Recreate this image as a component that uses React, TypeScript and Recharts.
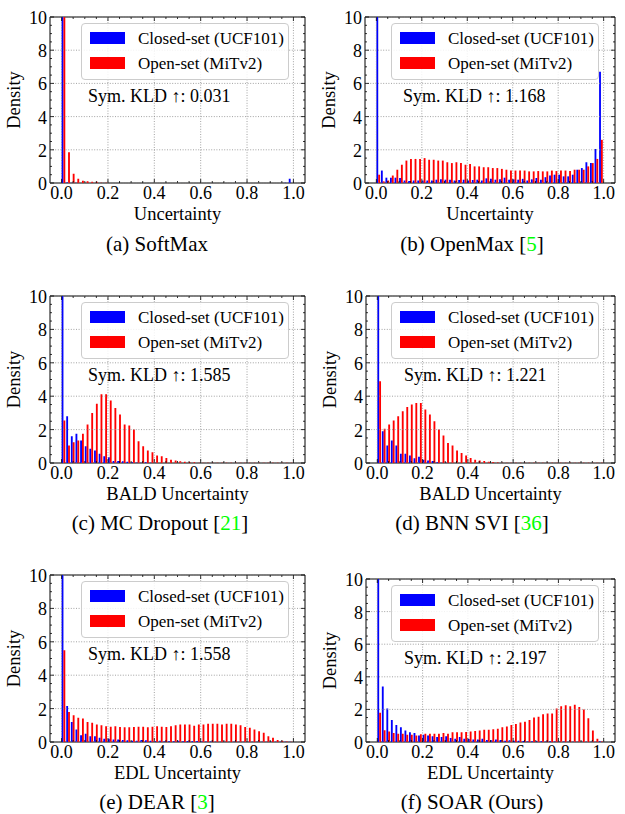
import React from 'react';
import { BarChart, Bar, XAxis, YAxis, ReferenceArea, Legend } from 'recharts';

// 50 bins of width 0.02 on [0, 1]
const BINS = Array.from({ length: 50 }, (_, i) => (i * 0.02).toFixed(2));
const CENTERS = Array.from({ length: 50 }, (_, i) => i * 0.02 + 0.01);

const X_TICKS = [0, 0.05, 0.1, 0.15, 0.2, 0.25, 0.3, 0.35, 0.4, 0.45, 0.5, 0.55, 0.6, 0.65, 0.7, 0.75, 0.8, 0.85, 0.9, 0.95, 1.0];
const Y_TICKS = [0, 0.5, 1, 1.5, 2, 2.5, 3, 3.5, 4, 4.5, 5, 5.5, 6, 6.5, 7, 7.5, 8, 8.5, 9, 9.5, 10];

const CLOSED_NAME = 'Closed-set (UCF101)';
const OPEN_NAME = 'Open-set (MiTv2)';

// (a) SoftMax
const SOFTMAX_CLOSED = [
  12, 0.03, 0.01, 0.01, 0, 0, 0, 0, 0, 0,
  0, 0, 0, 0, 0, 0, 0, 0, 0, 0,
  0, 0, 0, 0, 0, 0, 0, 0, 0, 0,
  0, 0, 0, 0, 0, 0, 0, 0, 0, 0,
  0, 0, 0, 0, 0, 0, 0, 0, 0.01, 0.26,
];
const SOFTMAX_OPEN = [
  12, 1.85, 0.56, 0.26, 0.14, 0.1, 0.08, 0.08, 0.02, 0.01,
  0, 0, 0, 0, 0, 0, 0, 0, 0, 0,
  0, 0, 0, 0, 0, 0, 0, 0, 0, 0,
  0, 0, 0, 0, 0, 0, 0, 0, 0, 0,
  0, 0, 0, 0, 0, 0, 0, 0, 0, 0,
];

// (b) OpenMax
const OPENMAX_CLOSED = [
  12, 0.75, 0.32, 0.32, 0.32, 0.3, 0.15, 0.12, 0.15, 0.15,
  0.15, 0.15, 0.15, 0.2, 0.22, 0.2, 0.2, 0.15, 0.18, 0.2,
  0.15, 0.18, 0.2, 0.15, 0.28, 0.25, 0.2, 0.22, 0.32, 0.2,
  0.22, 0.2, 0.25, 0.15, 0.22, 0.3, 0.2, 0.35, 0.45, 0.5,
  0.5, 0.4, 0.4, 0.5, 0.8, 0.9, 1.25, 1.2, 2.05, 6.7,
];
const OPENMAX_OPEN = [
  0.5, 0.1, 0.15, 0.45, 0.8, 1.1, 1.35, 1.45, 1.45, 1.45,
  1.5, 1.4, 1.4, 1.35, 1.35, 1.25, 1.2, 1.25, 1.2, 1.1,
  1.15, 1.0, 1.0, 0.95, 0.95, 0.9, 0.9, 0.85, 0.8, 0.75,
  0.75, 0.75, 0.75, 0.7, 0.7, 0.72, 0.7, 0.7, 0.75, 0.72,
  0.75, 0.75, 0.72, 0.8, 0.8, 0.8, 1.0, 1.2, 1.45, 2.6,
];

// (c) MC Dropout
const MCD_CLOSED = [
  12, 2.8, 1.6, 1.75, 1.35, 1.0, 0.85, 0.75, 0.55, 0.4,
  0.35, 0.12, 0.12, 0.1, 0.08, 0.05, 0.03, 0.02, 0.05, 0.01,
  0.01, 0, 0, 0, 0, 0, 0, 0, 0, 0,
  0, 0, 0, 0, 0, 0, 0, 0, 0, 0,
  0, 0, 0, 0, 0, 0, 0, 0, 0, 0,
];
const MCD_OPEN = [
  2.55, 1.05, 1.25, 1.35, 1.75, 2.3, 3.0, 3.55, 4.12, 4.12,
  3.75, 3.3, 2.9, 2.3, 2.25, 2.0, 1.3, 1.0, 0.75, 0.65,
  0.45, 0.4, 0.3, 0.2, 0.15, 0.1, 0.08, 0.06, 0.04, 0.02,
  0.01, 0.01, 0.01, 0.01, 0.01, 0.01, 0.01, 0.01, 0.01, 0.01,
  0.01, 0.01, 0.01, 0.01, 0.01, 0.01, 0.01, 0.01, 0.01, 0.01,
];

// (d) BNN SVI
const BNN_CLOSED = [
  12, 1.9, 1.05, 1.35, 1.05, 0.55, 0.55, 0.45, 0.28, 0.38,
  0.2, 0.15, 0.12, 0.05, 0.02, 0.01, 0, 0, 0, 0,
  0, 0, 0, 0, 0, 0, 0, 0, 0, 0,
  0, 0, 0, 0, 0, 0, 0, 0, 0, 0,
  0, 0, 0, 0, 0, 0, 0, 0, 0, 0,
];
const BNN_OPEN = [
  4.9, 2.05, 2.3, 2.55, 2.8, 3.1, 3.35, 3.5, 3.6, 3.6,
  3.2, 2.9, 2.5, 2.0, 1.65, 1.2, 1.05, 0.75, 0.6, 0.45,
  0.3, 0.2, 0.15, 0.12, 0.08, 0.06, 0.03, 0.02, 0.01, 0.01,
  0.01, 0.01, 0.01, 0.01, 0.01, 0.01, 0.01, 0.01, 0.01, 0.01,
  0.01, 0.01, 0.01, 0.01, 0.01, 0.01, 0.01, 0.01, 0.01, 0.01,
];

// (e) DEAR
const DEAR_CLOSED = [
  12, 2.15, 1.2, 0.75, 0.4, 0.5, 0.35, 0.35, 0.25, 0.2,
  0.2, 0.15, 0.15, 0.12, 0.1, 0.08, 0.08, 0.12, 0.1, 0.08,
  0.05, 0.08, 0.05, 0.05, 0.04, 0.08, 0.05, 0.06, 0.05, 0.06,
  0.05, 0.03, 0.03, 0.02, 0.02, 0.02, 0.02, 0.02, 0.02, 0.01,
  0.01, 0.01, 0.01, 0.01, 0.01, 0.01, 0.01, 0.01, 0.02, 0.02,
];
const DEAR_OPEN = [
  5.5, 1.8, 1.6, 1.45, 1.4, 1.2, 1.15, 1.05, 1.0, 0.95,
  0.92, 0.95, 0.9, 0.88, 0.88, 0.9, 0.92, 0.92, 0.88, 0.92,
  0.95, 0.92, 0.9, 0.95, 1.0, 1.05, 1.05, 1.05, 0.98, 1.05,
  1.05, 1.1, 1.1, 1.1, 1.05, 1.1, 1.1, 1.05, 1.0, 0.9,
  0.85, 0.75, 0.65, 0.55, 0.35, 0.25, 0.12, 0.08, 0.03, 0.02,
];

// (f) SOAR (Ours)
const SOAR_CLOSED = [
  12, 3.4, 2.05, 1.35, 1.05, 0.9, 0.7, 0.6, 0.55, 0.4,
  0.45, 0.4, 0.35, 0.3, 0.3, 0.35, 0.25, 0.2, 0.3, 0.2,
  0.18, 0.15, 0.15, 0.2, 0.12, 0.1, 0.15, 0.12, 0.08, 0.1,
  0.08, 0.08, 0.06, 0.05, 0.05, 0.04, 0.05, 0.03, 0.04, 0.03,
  0.03, 0.03, 0.02, 0.02, 0.02, 0.02, 0.01, 0.01, 0.02, 0.05,
];
const SOAR_OPEN = [
  1.8, 0.72, 0.65, 0.55, 0.5, 0.5, 0.45, 0.45, 0.4, 0.48,
  0.5, 0.5, 0.5, 0.5, 0.55, 0.5, 0.6, 0.6, 0.6, 0.62,
  0.65, 0.68, 0.7, 0.75, 0.75, 0.78, 0.82, 0.9, 0.95, 1.05,
  1.1, 1.2, 1.25, 1.35, 1.5, 1.55, 1.7, 1.75, 1.75, 2.05,
  2.2, 2.25, 2.2, 2.28, 2.15, 2.0, 1.45, 0.7, 0.2, 0.03,
];

const SERIF = "'Liberation Serif', serif";
const GRID = '#8a8a8a';

// chart margins around the plot area
const ML = 55;
const MT = 10;
const MR = 5;
const MB = 40;
const YW = 45;
const XH = 30;

const PANELS = [
  { id: 'a', left: 50, top: 17, width: 255, height: 166, closed: SOFTMAX_CLOSED, open: SOFTMAX_OPEN, xLabel: 'Uncertainty', kld: '0.031', caption: '(a) SoftMax', cite: '', capX: 157, capY: 251 },
  { id: 'b', left: 365, top: 17, width: 250, height: 166, closed: OPENMAX_CLOSED, open: OPENMAX_OPEN, xLabel: 'Uncertainty', kld: '1.168', caption: '(b) OpenMax', cite: '5', capX: 472, capY: 251 },
  { id: 'c', left: 50, top: 296, width: 255, height: 167, closed: MCD_CLOSED, open: MCD_OPEN, xLabel: 'BALD Uncertainty', kld: '1.585', caption: '(c) MC Dropout', cite: '21', capX: 160, capY: 530 },
  { id: 'd', left: 366, top: 296, width: 249, height: 167, closed: BNN_CLOSED, open: BNN_OPEN, xLabel: 'BALD Uncertainty', kld: '1.221', caption: '(d) BNN SVI', cite: '36', capX: 472, capY: 530 },
  { id: 'e', left: 50, top: 575, width: 255, height: 167, closed: DEAR_CLOSED, open: DEAR_OPEN, xLabel: 'EDL Uncertainty', kld: '1.558', caption: '(e) DEAR', cite: '3', capX: 157, capY: 809 },
  { id: 'f', left: 366, top: 579, width: 249, height: 163, closed: SOAR_CLOSED, open: SOAR_OPEN, xLabel: 'EDL Uncertainty', kld: '2.197', caption: '(f) SOAR (Ours)', cite: '', capX: 472, capY: 809 },
];

const isMajorX = (v: number) => Math.abs(v * 5 - Math.round(v * 5)) < 1e-6;

const LegendBox = ({ payload }: any) => (
  <div
    style={{
      width: 208,
      height: 57,
      boxSizing: 'border-box',
      border: '1px solid #cccccc',
      borderRadius: 4,
      background: 'rgba(255,255,255,0.85)',
      fontFamily: SERIF,
      fontSize: 17,
      position: 'relative',
      color: '#000',
    }}
  >
    {(payload || []).map((e: any, i: number) => (
      <div key={i} style={{ position: 'absolute', left: 8, top: 8 + i * 25, height: 12, display: 'flex', alignItems: 'center' }}>
        <span style={{ width: 35, height: 12, background: e.color, display: 'inline-block' }} />
        <span style={{ marginLeft: 13, whiteSpace: 'nowrap', lineHeight: '12px', position: 'relative', top: 1 }}>{e.value}</span>
      </div>
    ))}
  </div>
);

function Panel({ p }: { p: (typeof PANELS)[number] }) {
  const data = BINS.map((bin, i) => ({ bin, center: CENTERS[i], closed: p.closed[i], open: p.open[i] }));
  const chartW = ML + p.width + MR;
  const chartH = MT + p.height + MB;
  const pad = (p.width * 0.05) / 1.1;
  const plotRight = ML + p.width;

  const xTick = (props: any) => {
    const { x, y, payload } = props;
    const v = payload.value as number;
    const major = isMajorX(v);
    const len = major ? 4 : 2;
    return (
      <g>
        {major && <line x1={x} x2={x} y1={MT} y2={y} stroke={GRID} strokeWidth={0.8} strokeDasharray="1 1.6" />}
        <line x1={x} x2={x} y1={y} y2={y - len} stroke="#000" strokeWidth={0.8} />
        <line x1={x} x2={x} y1={MT} y2={MT + len} stroke="#000" strokeWidth={0.8} />
        {major && (
          <text x={x} y={y + 16} textAnchor="middle" fontFamily={SERIF} fontSize={18} fill="#000">
            {v.toFixed(1)}
          </text>
        )}
      </g>
    );
  };

  const yTick = (props: any) => {
    const { x, y, payload } = props;
    const v = payload.value as number;
    const major = v % 2 === 0;
    const len = major ? 4 : 2;
    return (
      <g>
        {major && <line x1={x} x2={plotRight} y1={y} y2={y} stroke={GRID} strokeWidth={0.8} strokeDasharray="1 1.6" />}
        <line x1={x} x2={x + len} y1={y} y2={y} stroke="#000" strokeWidth={0.8} />
        <line x1={plotRight - len} x2={plotRight} y1={y} y2={y} stroke="#000" strokeWidth={0.8} />
        {major && (
          <text x={x - 3} y={y + 7} textAnchor="end" fontFamily={SERIF} fontSize={18} fill="#000">
            {v}
          </text>
        )}
      </g>
    );
  };

  return (
    <div style={{ position: 'absolute', left: p.left - ML, top: p.top - MT }}>
      <BarChart
        width={chartW}
        height={chartH}
        data={data}
        margin={{ top: MT, right: MR, left: ML - YW, bottom: MB - XH }}
        barGap={0}
        barCategoryGap="20%"
      >
        <XAxis
          xAxisId="num"
          dataKey="center"
          type="number"
          domain={[-0.05, 1.05]}
          allowDataOverflow
          ticks={X_TICKS}
          interval={0}
          tickSize={0}
          tickMargin={0}
          axisLine={false}
          tickLine={false}
          height={XH}
          tick={xTick}
        />
        <XAxis xAxisId="cat" dataKey="bin" hide height={0} padding={{ left: pad, right: pad }} />
        <YAxis
          type="number"
          domain={[0, 10]}
          allowDataOverflow
          ticks={Y_TICKS}
          interval={0}
          tickSize={0}
          tickMargin={0}
          axisLine={false}
          tickLine={false}
          width={YW}
          tick={yTick}
        />
        <Bar xAxisId="cat" dataKey="closed" name={CLOSED_NAME} fill="#0000ff" barSize={1.85} isAnimationActive={false} />
        <Bar xAxisId="cat" dataKey="open" name={OPEN_NAME} fill="#ff0000" barSize={1.85} isAnimationActive={false} />
        <ReferenceArea xAxisId="num" x1={-0.05} x2={1.05} y1={0} y2={10} fill="none" stroke="#000" strokeWidth={1} ifOverflow="visible" />
        <Legend
          layout="horizontal"
          verticalAlign="middle"
          align="center"
          content={LegendBox}
          wrapperStyle={{ top: MT + 6, left: plotRight - 16 - 208, width: 208, height: 57 }}
        />
      </BarChart>
    </div>
  );
}

export default function App() {
  return (
    <div style={{ position: 'absolute', left: 0, top: 0, width: 625, height: 814, background: '#fff', overflow: 'hidden', fontFamily: SERIF }}>
      {PANELS.map((p) => (
        <Panel key={p.id} p={p} />
      ))}
      <svg width={625} height={814} style={{ position: 'absolute', left: 0, top: 0, pointerEvents: 'none' }}>
        {PANELS.map((p) => {
          const cy = p.top + p.height / 2;
          const yx = p.left - 30;
          return (
            <g key={p.id} fontFamily={SERIF} fill="#000">
              <text x={yx} y={cy} fontSize={18.5} textAnchor="middle" transform={`rotate(-90 ${yx} ${cy})`}>
                Density
              </text>
              <text x={p.left + p.width / 2} y={p.top + p.height + 36.5} fontSize={18.5} textAnchor="middle">
                {p.xLabel}
              </text>
              <text x={p.left + 38} y={p.top + 84.5} fontSize={18}>
                {'Sym. KLD ↑: ' + p.kld}
              </text>
              <text x={p.capX} y={p.capY} fontSize={21} textAnchor="middle">
                {p.caption}
                {p.cite && (
                  <>
                    {' ['}
                    <tspan fill="#00ff00">{p.cite}</tspan>
                    {']'}
                  </>
                )}
              </text>
            </g>
          );
        })}
      </svg>
    </div>
  );
}
